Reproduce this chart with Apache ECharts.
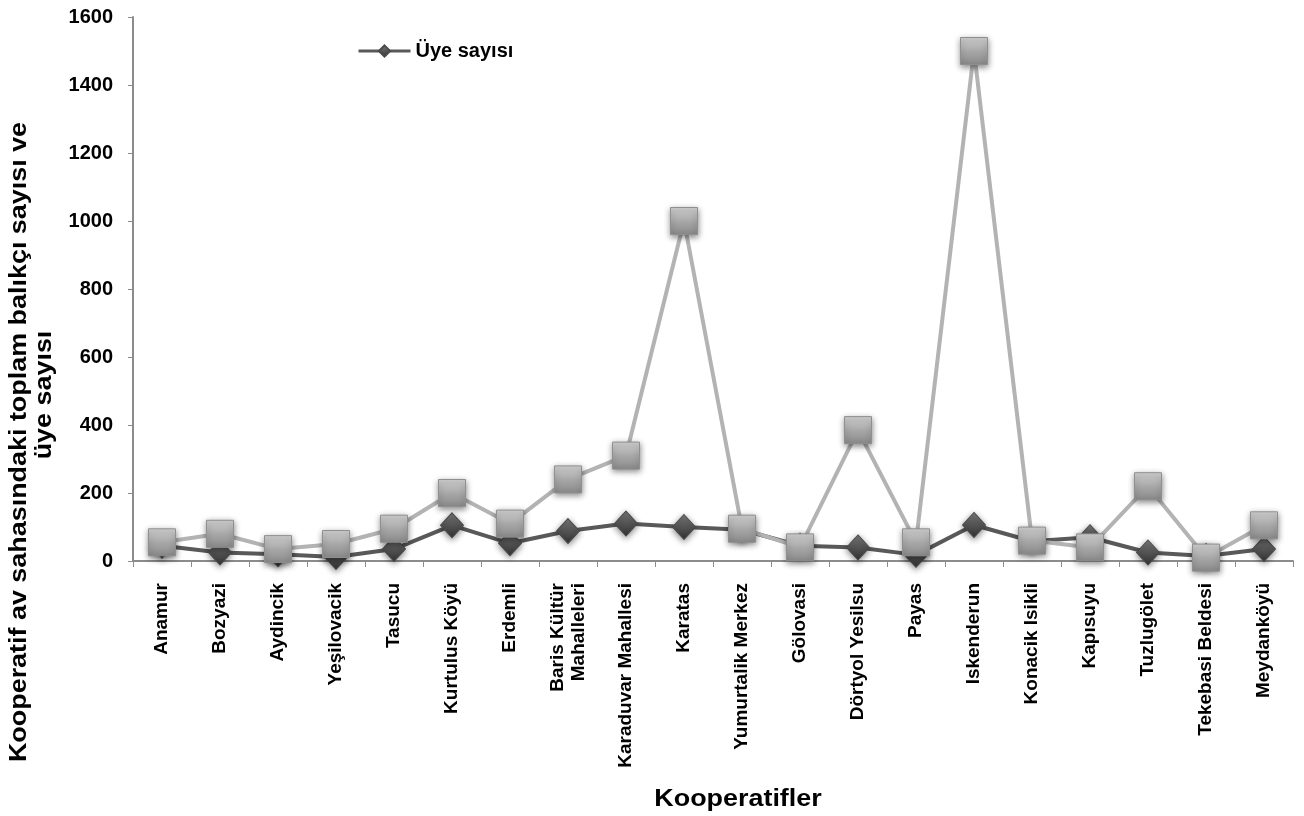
<!DOCTYPE html>
<html>
<head>
<meta charset="utf-8">
<script src="https://cdn.jsdelivr.net/npm/echarts@6/dist/echarts.min.js"></script>
<style>
html,body{margin:0;padding:0;background:#fff;}
#chart{width:1304px;height:816px;}
</style>
</head>
<body>
<div id="chart"></div>
<script>
const categories = ['Anamur','Bozyazi','Aydincik','Yeşilovacik','Tasucu','Kurtulus Köyü','Erdemli','Baris Kültür\nMahalleleri','Karaduvar Mahallesi','Karatas','Yumurtalik Merkez','Gölovasi','Dörtyol Yesilsu','Payas','Iskenderun','Konacik Isikli','Kapısuyu','Tuzlugölet','Tekebasi Beldesi','Meydanköyü'];
const uyeSayisi = [45,25,20,12,35,105,52,88,110,100,92,45,40,18,106,58,70,25,15,35];
const toplamBalikci = [55,80,35,50,95,200,110,240,310,1000,95,40,385,55,1500,60,40,220,10,105];
const yTicks = [0,200,400,600,800,1000,1200,1400,1600];
const yTitleLines = ['Kooperatif av sahasındaki toplam balıkçı sayısı ve','üye sayısı'];
const xTitle = 'Kooperatifler';

const chart = echarts.init(document.getElementById('chart'));
const font = 'Liberation Sans, Arial, sans-serif';
const titleStyle = {fontFamily:font,fontWeight:'bold',fontSize:23,fill:'#000',align:'center',verticalAlign:'middle'};
chart.setOption({
  animation:false,
  backgroundColor:'#fff',
  grid:{left:133,right:11,top:17,bottom:255,containLabel:false,outerBoundsMode:'none'},
  legend:{
    data:['Üye sayısı'],
    left:352, top:36,
    itemWidth:52, itemHeight:14,
    itemGap:4,
    itemStyle:{},
    lineStyle:{width:3},
    textStyle:{fontFamily:font,fontWeight:'bold',fontSize:20,color:'#000'}
  },
  graphic:[
    {type:'text',x:20,y:442,rotation:Math.PI/2,scaleX:1.17,style:Object.assign({text:yTitleLines[0]},titleStyle)},
    {type:'text',x:45,y:395,rotation:Math.PI/2,scaleX:1.17,style:Object.assign({text:yTitleLines[1]},titleStyle)},
    {type:'text',x:738,y:800,scaleX:1.17,style:Object.assign({text:xTitle},titleStyle)}
  ],
  xAxis:{
    type:'category',
    data:categories,
    boundaryGap:true,
    axisLine:{lineStyle:{color:'#8c8c8c',width:2}},
    axisTick:{show:true,length:6,alignWithLabel:false,lineStyle:{color:'#8c8c8c',width:1}},
    axisLabel:{rotate:90,interval:0,margin:22,fontFamily:font,fontWeight:'bold',fontSize:19,color:'#000',lineHeight:21},
    splitLine:{show:false}
  },
  yAxis:{
    type:'value',
    min:yTicks[0], max:yTicks[yTicks.length-1], interval:200,
    axisLine:{show:true,lineStyle:{color:'#8c8c8c',width:2}},
    axisTick:{show:true,length:5,lineStyle:{color:'#8c8c8c'}},
    axisLabel:{margin:20,fontFamily:font,fontWeight:'bold',fontSize:20,color:'#000',formatter:function(v){return String(v);}},
    splitLine:{show:false}
  },
  series:[
    {
      name:'Üye sayısı',
      type:'line',
      data:uyeSayisi,
      symbol:'diamond',
      symbolSize:[23,25],
      lineStyle:{color:'#595959',width:4},
      itemStyle:{
        color:{type:'linear',x:0,y:0,x2:0,y2:1,colorStops:[{offset:0,color:'#7a7a7a'},{offset:0.5,color:'#555'},{offset:1,color:'#333'}]},
        borderColor:'#4a4a4a',borderWidth:1,
        shadowColor:'rgba(0,0,0,0.45)',shadowBlur:6,shadowOffsetY:2
      },
      z:2
    },
    {
      name:'Toplam balıkçı sayısı',
      type:'line',
      data:toplamBalikci,
      symbol:'rect',
      symbolSize:27,
      lineStyle:{color:'#b3b3b3',width:4},
      itemStyle:{
        color:{type:'linear',x:0,y:0,x2:0,y2:1,colorStops:[{offset:0,color:'#d4d4d4'},{offset:0.5,color:'#a8a8a8'},{offset:1,color:'#8a8a8a'}]},
        borderColor:'#8f8f8f',borderWidth:1,
        shadowColor:'rgba(0,0,0,0.45)',shadowBlur:6,shadowOffsetY:2
      },
      z:3
    }
  ]
});
</script>
</body>
</html>
